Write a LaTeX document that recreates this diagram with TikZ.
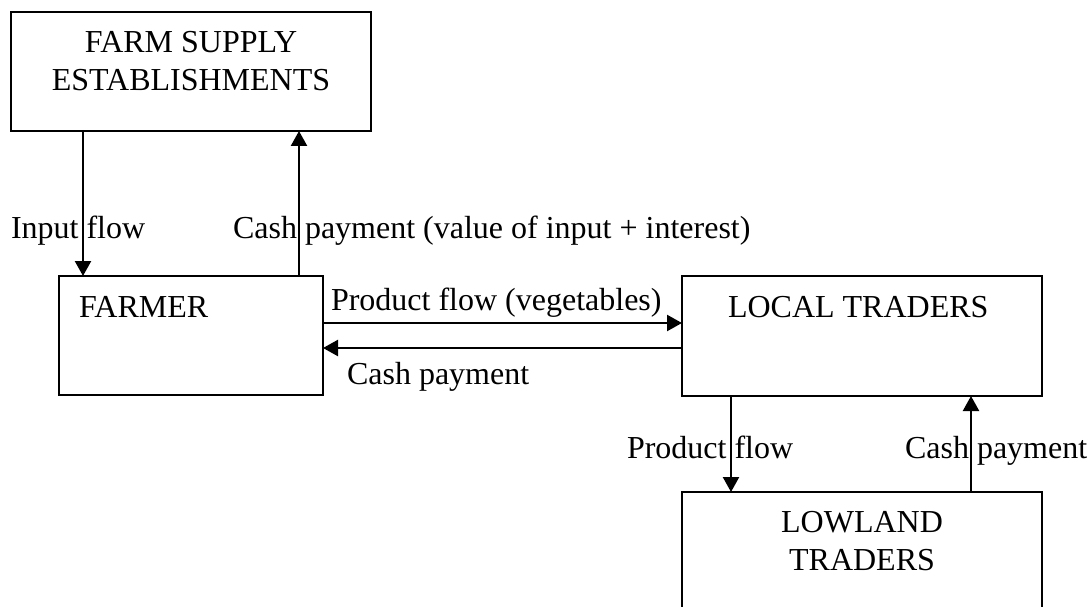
\documentclass[tikz,border=0pt]{standalone}
\usepackage{fontspec}
\setmainfont{Liberation Serif}
\usetikzlibrary{arrows.meta}
\begin{document}
\begin{tikzpicture}[x=1pt,y=-1pt,
  box/.style={draw=black, line width=2.6pt, rectangle, inner sep=0pt, outer sep=0pt, anchor=north west},
  txt/.style={font=\fontsize{32}{38}\selectfont, inner sep=0pt, outer sep=0pt, anchor=base, align=center},
  lbl/.style={font=\fontsize{32}{38}\selectfont, inner sep=0pt, outer sep=0pt, anchor=base west},
  flow/.style={line width=2.3pt, -{Triangle[length=15pt,width=16pt]}}]
\useasboundingbox[fill=white] (0,0) rectangle (1090,607);
% boxes
\node[box, minimum width=360pt, minimum height=119pt] (fse) at (11,12) {};
\node[box, minimum width=264pt, minimum height=119pt] (farmer) at (59,276) {};
\node[box, minimum width=360pt, minimum height=120pt] (local) at (682,276) {};
\node[box, minimum width=360pt, minimum height=120pt] (lowland) at (682,492) {};
% box texts
\node[txt] (tfse) at (191,91) {FARM SUPPLY\\ESTABLISHMENTS};
\node[txt, anchor=base west] (tfarmer) at (79,317) {FARMER};
\node[txt, anchor=base west] (tlocal) at (728,317) {LOCAL TRADERS};
\node[txt] (tlowland) at (862,570) {LOWLAND\\TRADERS};
% connectors
\draw[flow] ([xshift=72pt]fse.south west) -- ([xshift=24pt]farmer.north west);
\draw[flow] ([xshift=240pt]farmer.north west) -- ([xshift=288pt]fse.south west);
\draw[flow] ([yshift=-47pt]farmer.north east) -- ([yshift=-47pt]local.north west);
\draw[flow] ([yshift=-72pt]local.north west) -- ([yshift=-72pt]farmer.north east);
\draw[flow] ([xshift=49pt]local.south west) -- ([xshift=49pt]lowland.north west);
\draw[flow] ([xshift=289pt]lowland.north west) -- ([xshift=289pt]local.south west);
% labels
\node[lbl] (l1) at (11,238) {Input flow};
\node[lbl] (l2) at (233,238) {Cash payment (value of input + interest)};
\node[lbl] (l3) at (331,310) {Product flow (vegetables)};
\node[lbl] (l4) at (347,384) {Cash payment};
\node[lbl] (l5) at (627,458) {Product flow};
\node[lbl] (l6) at (905,458) {Cash payment};
\end{tikzpicture}
\end{document}
